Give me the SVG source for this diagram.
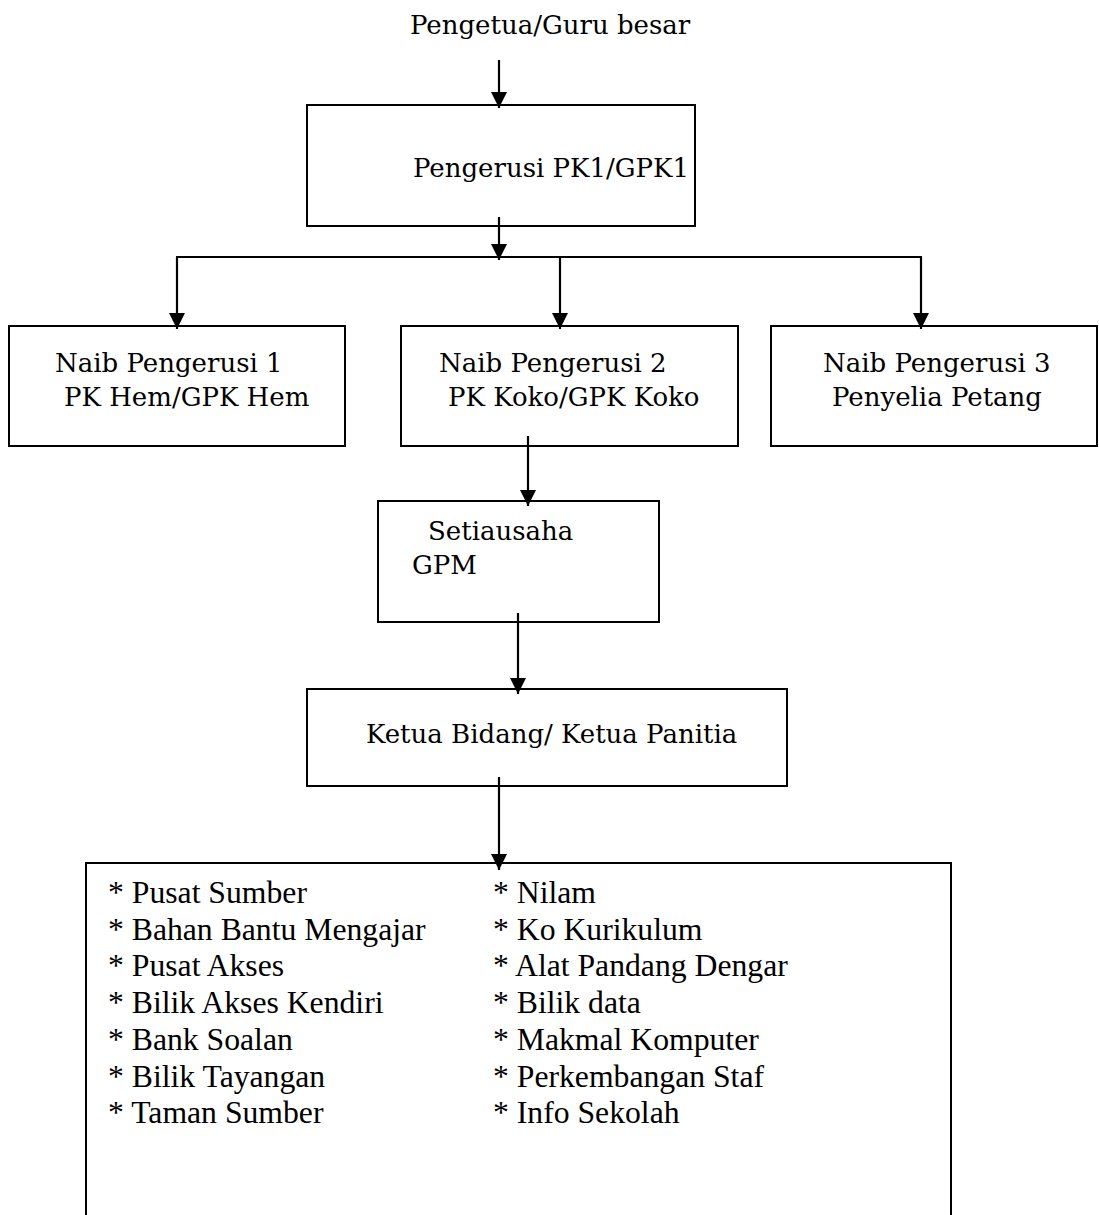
<svg xmlns="http://www.w3.org/2000/svg" width="1099" height="1215" viewBox="0 0 1099 1215">
<style>
.box{fill:#fff;stroke:#000;stroke-width:2}
.lbl{font-family:"DejaVu Serif","Liberation Serif",serif;font-size:26px;fill:#000}
.lst{font-family:"Liberation Serif","Times New Roman",serif;font-size:31.7px;fill:#000}
.con{stroke:#000;stroke-width:2.2;fill:none}
</style>
<defs>
<marker id="arr" viewBox="0 0 16 16" refX="16" refY="8" markerWidth="16" markerHeight="16" markerUnits="userSpaceOnUse" orient="auto">
<path d="M0,0 L16,8 L0,16 z" fill="#000"/>
</marker>
</defs>
<rect width="1099" height="1215" fill="#fff"/>
<g id="node-pengetua">
<text class="lbl" x="410" y="34">Pengetua/Guru besar</text>
</g>
<g id="node-pengerusi">
<rect class="box" x="307" y="105" width="388" height="121"/>
<text class="lbl" x="413" y="177">Pengerusi PK1/GPK1</text>
</g>
<g id="node-naib1">
<rect class="box" x="9" y="326" width="336" height="120"/>
<text class="lbl" x="55" y="372">Naib Pengerusi 1</text>
<text class="lbl" x="64" y="406">PK Hem/GPK Hem</text>
</g>
<g id="node-naib2">
<rect class="box" x="401" y="326" width="337" height="120"/>
<text class="lbl" x="439" y="372">Naib Pengerusi 2</text>
<text class="lbl" x="448" y="406">PK Koko/GPK Koko</text>
</g>
<g id="node-naib3">
<rect class="box" x="771" y="326" width="326" height="120"/>
<text class="lbl" x="823" y="372">Naib Pengerusi 3</text>
<text class="lbl" x="832" y="406">Penyelia Petang</text>
</g>
<g id="node-setiausaha">
<rect class="box" x="378" y="501" width="281" height="121"/>
<text class="lbl" x="428" y="540">Setiausaha</text>
<text class="lbl" x="412" y="574">GPM</text>
</g>
<g id="node-ketua">
<rect class="box" x="307" y="689" width="480" height="97"/>
<text class="lbl" x="366" y="743">Ketua Bidang/ Ketua Panitia</text>
</g>
<g id="node-senarai">
<rect class="box" x="86" y="863" width="865" height="420"/>
<text class="lst" x="108" y="903">* Pusat Sumber</text>
<text class="lst" x="108" y="940">* Bahan Bantu Mengajar</text>
<text class="lst" x="108" y="976">* Pusat Akses</text>
<text class="lst" x="108" y="1013">* Bilik Akses Kendiri</text>
<text class="lst" x="108" y="1050">* Bank Soalan</text>
<text class="lst" x="108" y="1087">* Bilik Tayangan</text>
<text class="lst" x="108" y="1123">* Taman Sumber</text>
<text class="lst" x="493" y="903">* Nilam</text>
<text class="lst" x="493" y="940">* Ko Kurikulum</text>
<text class="lst" x="493" y="976">* Alat Pandang Dengar</text>
<text class="lst" x="493" y="1013">* Bilik data</text>
<text class="lst" x="493" y="1050">* Makmal Komputer</text>
<text class="lst" x="493" y="1087">* Perkembangan Staf</text>
<text class="lst" x="493" y="1123">* Info Sekolah</text>
</g>
<g id="connectors">
<line class="con" x1="499" y1="60" x2="499" y2="108" marker-end="url(#arr)"/>
<line class="con" x1="499" y1="217" x2="499" y2="260" marker-end="url(#arr)"/>
<line class="con" x1="176" y1="257" x2="922" y2="257"/>
<line class="con" x1="177" y1="257" x2="177" y2="329" marker-end="url(#arr)"/>
<line class="con" x1="560" y1="257" x2="560" y2="329" marker-end="url(#arr)"/>
<line class="con" x1="921" y1="257" x2="921" y2="329" marker-end="url(#arr)"/>
<line class="con" x1="528" y1="436" x2="528" y2="506" marker-end="url(#arr)"/>
<line class="con" x1="518" y1="613" x2="518" y2="694" marker-end="url(#arr)"/>
<line class="con" x1="499" y1="777" x2="499" y2="870" marker-end="url(#arr)"/>
</g>
</svg>
